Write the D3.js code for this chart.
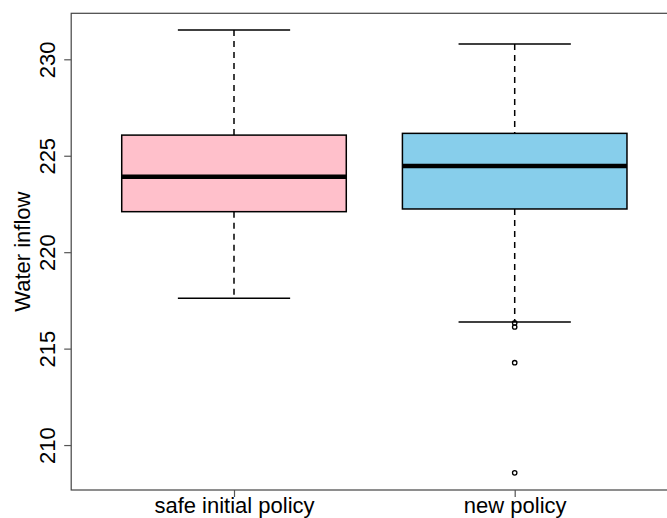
<!DOCTYPE html>
<html>
<head>
<meta charset="utf-8">
<script src="https://cdn.jsdelivr.net/npm/d3@7"></script>
<style>
  html, body { margin: 0; padding: 0; background: #fff; }
  svg { display: block; font-family: "Liberation Sans", Arial, sans-serif; }
</style>
</head>
<body>
<svg id="chart" width="667" height="518"></svg>
<script>
// box statistics
const categories = ["safe initial policy", "new policy"];
const boxColors = ["#FFC0CB", "#87CEEB"];
const whiskerLow = [217.61, 216.38];
const q1 = [222.10, 222.24];
const medians = [223.91, 224.47];
const q3 = [226.07, 226.16];
const whiskerHigh = [231.52, 230.79];
const outliers = [[], [216.33, 216.12, 214.27, 208.56]];
const yTicks = [210, 215, 220, 225, 230];

const svg = d3.select("#chart");
const plot = {left: 71.2, right: 677.5, top: 13.3, bottom: 490};
const fontSize = 22;

// R style: xlim 0.5..n+0.5 padded by 4%
const xScale = d3.scaleLinear()
  .domain([0.42, 2.58])
  .range([plot.left, plot.right]);
const yScale = d3.scaleLinear()
  .domain([207.67, 232.385])
  .range([plot.bottom, plot.top]);

const data = categories.map((c, i) => ({
  name: c, idx: i + 1, fill: boxColors[i],
  lo: whiskerLow[i], q1: q1[i], med: medians[i], q3: q3[i], hi: whiskerHigh[i],
  out: outliers[i]
}));

const boxHalf = 0.4, capHalf = 0.2;

const g = svg.selectAll("g.box").data(data).enter().append("g").attr("class", "box");

// whiskers (dashed)
g.append("line")
  .attr("x1", d => xScale(d.idx)).attr("x2", d => xScale(d.idx))
  .attr("y1", d => yScale(d.hi)).attr("y2", d => yScale(d.q3))
  .attr("stroke", "#000").attr("stroke-width", 1.5).attr("stroke-dasharray", "6,5");
g.append("line")
  .attr("x1", d => xScale(d.idx)).attr("x2", d => xScale(d.idx))
  .attr("y1", d => yScale(d.q1)).attr("y2", d => yScale(d.lo))
  .attr("stroke", "#000").attr("stroke-width", 1.5).attr("stroke-dasharray", "6,5");

// caps
["hi", "lo"].forEach(k => {
  g.append("line")
    .attr("x1", d => xScale(d.idx - capHalf)).attr("x2", d => xScale(d.idx + capHalf))
    .attr("y1", d => yScale(d[k])).attr("y2", d => yScale(d[k]))
    .attr("stroke", "#000").attr("stroke-width", 1.5);
});

// boxes
g.append("rect")
  .attr("x", d => xScale(d.idx - boxHalf))
  .attr("width", d => xScale(d.idx + boxHalf) - xScale(d.idx - boxHalf))
  .attr("y", d => yScale(d.q3))
  .attr("height", d => yScale(d.q1) - yScale(d.q3))
  .attr("fill", d => d.fill)
  .attr("stroke", "#000").attr("stroke-width", 1.5);

// medians
g.append("line")
  .attr("x1", d => xScale(d.idx - boxHalf)).attr("x2", d => xScale(d.idx + boxHalf))
  .attr("y1", d => yScale(d.med)).attr("y2", d => yScale(d.med))
  .attr("stroke", "#000").attr("stroke-width", 4.5);

// outliers
g.each(function(d) {
  d3.select(this).selectAll("circle").data(d.out).enter().append("circle")
    .attr("cx", xScale(d.idx))
    .attr("cy", v => yScale(v))
    .attr("r", 2.2)
    .attr("fill", "none").attr("stroke", "#000").attr("stroke-width", 1.3);
});

// frame
svg.append("rect")
  .attr("x", plot.left).attr("y", plot.top)
  .attr("width", plot.right - plot.left).attr("height", plot.bottom - plot.top)
  .attr("fill", "none").attr("stroke", "#444").attr("stroke-width", 1.2);

// y axis
const yAxis = svg.append("g")
  .attr("transform", `translate(${plot.left},0)`)
  .call(d3.axisLeft(yScale).tickValues(yTicks).tickSize(7).tickFormat(d3.format("d")));
yAxis.select(".domain").remove();
yAxis.selectAll(".tick line").attr("stroke", "#555").attr("stroke-width", 1.2);
yAxis.selectAll(".tick text")
  .attr("x", null).attr("dy", null)
  .attr("transform", "translate(-16.2,0) rotate(-90)")
  .attr("text-anchor", "middle")
  .attr("fill", "#000")
  .style("font-size", fontSize + "px")
  .style("font-family", "\"Liberation Sans\", Arial, sans-serif");

// x axis
const xAxis = svg.append("g")
  .attr("transform", `translate(0,${plot.bottom})`)
  .call(d3.axisBottom(xScale).tickValues([1, 2]).tickSize(7)
    .tickFormat(d => categories[d - 1]));
xAxis.select(".domain").remove();
xAxis.selectAll(".tick line").attr("stroke", "#555").attr("stroke-width", 1.2);
xAxis.selectAll(".tick text")
  .attr("y", 23).attr("dy", null)
  .attr("fill", "#000")
  .style("font-size", fontSize + "px")
  .style("font-family", "\"Liberation Sans\", Arial, sans-serif");

// y label
svg.append("text")
  .attr("transform", `translate(30,${(plot.top + plot.bottom) / 2}) rotate(-90)`)
  .attr("text-anchor", "middle")
  .style("font-size", fontSize + "px")
  .text("Water inflow");
</script>
</body>
</html>
